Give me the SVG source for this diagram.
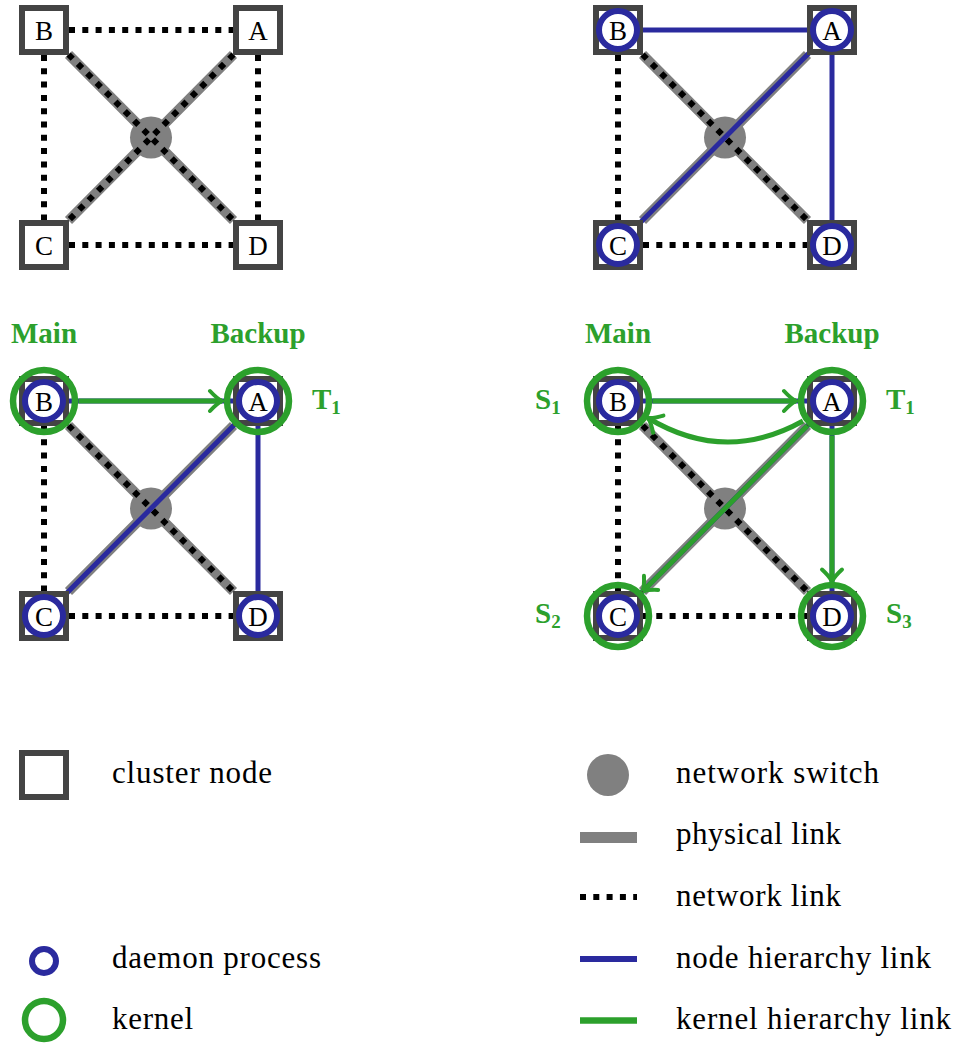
<svg xmlns="http://www.w3.org/2000/svg" width="957" height="1043" viewBox="0 0 957 1043">
<defs>
<style>
.sq{fill:#fff;stroke:#444;stroke-width:6}
.phys{stroke:#808080;stroke-width:10;fill:none}
.net{stroke:#000;stroke-width:6;stroke-dasharray:6 7.3;fill:none}
.sw{fill:#808080}
.nh{stroke:#2a2a9e;stroke-width:5;fill:none}
.kh{stroke:#2ca02c;stroke-width:5;fill:none}
.dm{fill:#fff;stroke:#2a2a9e;stroke-width:6}
.kn{fill:none;stroke:#2ca02c;stroke-width:6.5}
text{font-family:"Liberation Serif","DejaVu Serif","Noto Serif",serif}
.lbl{font-size:27px;text-anchor:middle;fill:#000}
.gl{font-weight:bold;fill:#2ca02c;font-size:29px}
.gm{text-anchor:middle}
.leg{font-size:31px;fill:#000}
</style>
<marker id="arr" markerUnits="userSpaceOnUse" viewBox="-16 -14 20 28" markerWidth="20" markerHeight="28" refX="0" refY="0" orient="auto">
<path d="M -12 -10 C -7 -4.5 -3 -1.5 0 0 C -3 1.5 -7 4.5 -12 10" fill="none" stroke="#2ca02c" stroke-width="4" stroke-linecap="round"/>
</marker>
</defs>
<rect width="957" height="1043" fill="#fff"/>

<g id="panel1">
<g id="p1-connectors">
<path class="net" d="M69 30H233M44 55V220M69 245H233M258 55V220"/>
<path class="phys" d="M68.5 54.5L233.5 220.5M233.5 54.5L68.5 220.5"/>
<circle class="sw" cx="151" cy="137.5" r="21"/>
<path class="net" d="M68.5 54.5L233.5 220.5M233.5 54.5L68.5 220.5"/>
</g>
<g id="p1-B"><rect class="sq" x="22" y="8" width="44" height="44"/><text class="lbl" x="44" y="40" font-family="Liberation Serif, DejaVu Serif, serif">B</text></g>
<g id="p1-A"><rect class="sq" x="236" y="8" width="44" height="44"/><text class="lbl" x="258" y="40" font-family="Liberation Serif, DejaVu Serif, serif">A</text></g>
<g id="p1-C"><rect class="sq" x="22" y="223" width="44" height="44"/><text class="lbl" x="44" y="255" font-family="Liberation Serif, DejaVu Serif, serif">C</text></g>
<g id="p1-D"><rect class="sq" x="236" y="223" width="44" height="44"/><text class="lbl" x="258" y="255" font-family="Liberation Serif, DejaVu Serif, serif">D</text></g>
</g>

<g id="panel2" transform="translate(574,0)">
<g id="p2-connectors">
<path class="net" d="M44 55V220M69 245H233"/>
<path class="phys" d="M68.5 54.5L233.5 220.5M233.5 54.5L68.5 220.5"/>
<circle class="sw" cx="151" cy="137.5" r="21"/>
<path class="net" d="M68.5 54.5L233.5 220.5"/>
<path class="nh" d="M44 30H258V245M258 30L44 245"/>
</g>
<g id="p2-B"><rect class="sq" x="22" y="8" width="44" height="44"/><circle class="dm" cx="44" cy="30" r="19"/><text class="lbl" x="44" y="40">B</text></g>
<g id="p2-A"><rect class="sq" x="236" y="8" width="44" height="44"/><circle class="dm" cx="258" cy="30" r="19"/><text class="lbl" x="258" y="40">A</text></g>
<g id="p2-C"><rect class="sq" x="22" y="223" width="44" height="44"/><circle class="dm" cx="44" cy="245" r="19"/><text class="lbl" x="44" y="255">C</text></g>
<g id="p2-D"><rect class="sq" x="236" y="223" width="44" height="44"/><circle class="dm" cx="258" cy="245" r="19"/><text class="lbl" x="258" y="255">D</text></g>
</g>

<g id="panel3" transform="translate(0,371)">
<g id="p3-connectors">
<path class="net" d="M44 55V220M69 245H233"/>
<path class="phys" d="M68.5 54.5L233.5 220.5M233.5 54.5L68.5 220.5"/>
<circle class="sw" cx="151" cy="137.5" r="21"/>
<path class="net" d="M68.5 54.5L233.5 220.5"/>
<path class="nh" d="M44 30H258V245M258 30L44 245"/>
<path class="kh" d="M78.5 30H222" marker-end="url(#arr)"/>
</g>
<g id="p3-B"><rect class="sq" x="22" y="8" width="44" height="44"/><circle class="dm" cx="44" cy="30" r="19"/><text class="lbl" x="44" y="40">B</text><circle class="kn" cx="44" cy="30" r="31"/></g>
<g id="p3-A"><rect class="sq" x="236" y="8" width="44" height="44"/><circle class="dm" cx="258" cy="30" r="19"/><text class="lbl" x="258" y="40">A</text><circle class="kn" cx="258" cy="30" r="31"/></g>
<g id="p3-C"><rect class="sq" x="22" y="223" width="44" height="44"/><circle class="dm" cx="44" cy="245" r="19"/><text class="lbl" x="44" y="255">C</text></g>
<g id="p3-D"><rect class="sq" x="236" y="223" width="44" height="44"/><circle class="dm" cx="258" cy="245" r="19"/><text class="lbl" x="258" y="255">D</text></g>
<g id="p3-labels">
<text class="gl gm" x="44" y="-28">Main</text>
<text class="gl gm" x="258" y="-28">Backup</text>
<text class="gl" x="312" y="38">T<tspan font-size="19" dy="5">1</tspan></text>
</g>
</g>

<g id="panel4" transform="translate(574,371)">
<g id="p4-connectors">
<path class="net" d="M44 55V220M69 245H233"/>
<path class="phys" d="M68.5 54.5L233.5 220.5M233.5 54.5L68.5 220.5"/>
<circle class="sw" cx="151" cy="137.5" r="21"/>
<path class="net" d="M68.5 54.5L233.5 220.5"/>
<path class="nh" d="M44 30H258V245M258 30L44 245"/>
<path class="kh" d="M78.5 30H222" marker-end="url(#arr)"/>
<path class="kh" d="M229 50Q151 93.5 74 47" marker-end="url(#arr)"/>
<path class="kh" d="M233.6 54.4L68.6 220.4" marker-end="url(#arr)"/>
<path class="kh" d="M258 64.5V210.5" marker-end="url(#arr)"/>
</g>
<g id="p4-B"><rect class="sq" x="22" y="8" width="44" height="44"/><circle class="dm" cx="44" cy="30" r="19"/><text class="lbl" x="44" y="40">B</text><circle class="kn" cx="44" cy="30" r="31"/></g>
<g id="p4-A"><rect class="sq" x="236" y="8" width="44" height="44"/><circle class="dm" cx="258" cy="30" r="19"/><text class="lbl" x="258" y="40">A</text><circle class="kn" cx="258" cy="30" r="31"/></g>
<g id="p4-C"><rect class="sq" x="22" y="223" width="44" height="44"/><circle class="dm" cx="44" cy="245" r="19"/><text class="lbl" x="44" y="255">C</text><circle class="kn" cx="44" cy="245" r="31"/></g>
<g id="p4-D"><rect class="sq" x="236" y="223" width="44" height="44"/><circle class="dm" cx="258" cy="245" r="19"/><text class="lbl" x="258" y="255">D</text><circle class="kn" cx="258" cy="245" r="31"/></g>
<g id="p4-labels">
<text class="gl gm" x="44" y="-28">Main</text>
<text class="gl gm" x="258" y="-28">Backup</text>
<text class="gl" x="-39" y="38">S<tspan font-size="19" dy="5">1</tspan></text>
<text class="gl" x="312" y="38">T<tspan font-size="19" dy="5">1</tspan></text>
<text class="gl" x="-39" y="252">S<tspan font-size="19" dy="5">2</tspan></text>
<text class="gl" x="312" y="252">S<tspan font-size="19" dy="5">3</tspan></text>
</g>
</g>

<g id="legend">
<g id="leg-cluster"><rect class="sq" x="22" y="753" width="44" height="44"/><text class="leg" x="112" y="783" textLength="160">cluster node</text></g>
<g id="leg-switch"><circle class="sw" cx="608" cy="775" r="21"/><text class="leg" x="676" y="783" textLength="203">network switch</text></g>
<g id="leg-phys"><rect x="580" y="832" width="57" height="11" fill="#808080"/><text class="leg" x="676" y="844" textLength="165">physical link</text></g>
<g id="leg-net"><path class="net" d="M580 897H637"/><text class="leg" x="676" y="906" textLength="165">network link</text></g>
<g id="leg-daemon"><circle class="dm" cx="44" cy="961" r="12"/><text class="leg" x="112" y="968" textLength="209">daemon process</text></g>
<g id="leg-nh"><path class="nh" d="M580 959H637" style="stroke-width:6"/><text class="leg" x="676" y="968" textLength="255">node hierarchy link</text></g>
<g id="leg-kernel"><circle class="kn" cx="44" cy="1020" r="19"/><text class="leg" x="112" y="1029" textLength="81">kernel</text></g>
<g id="leg-kh"><path class="kh" d="M580 1020.5H637" style="stroke-width:6.5"/><text class="leg" x="676" y="1029" textLength="275">kernel hierarchy link</text></g>
</g>
</svg>
